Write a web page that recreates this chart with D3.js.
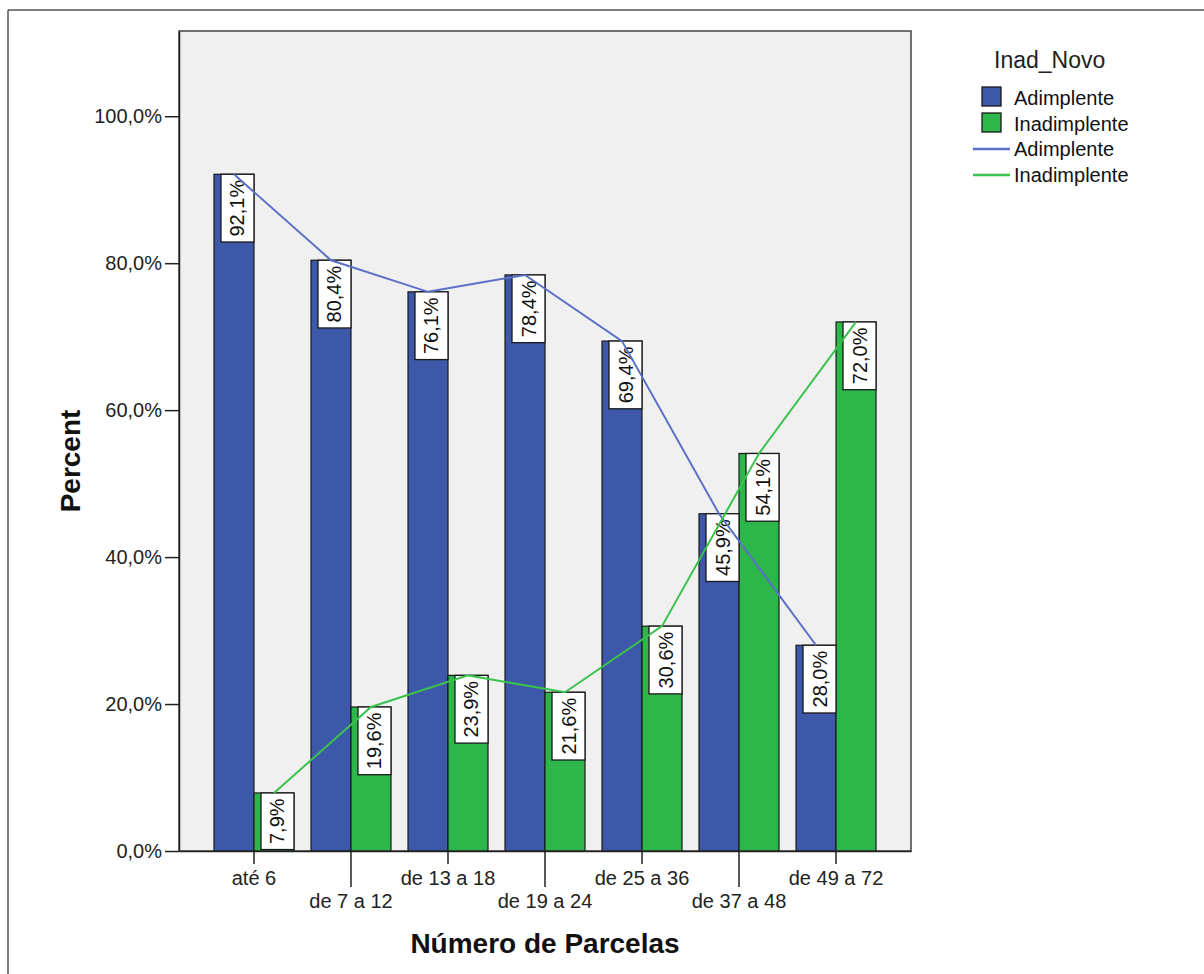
<!DOCTYPE html>
<html>
<head>
<meta charset="utf-8">
<script src="https://cdn.jsdelivr.net/npm/d3@7"></script>
<style>
  html, body { margin: 0; padding: 0; background: #fff; }
  svg { display: block; font-family: "Liberation Sans", Arial, sans-serif; }
</style>
</head>
<body>
<svg id="chart" width="1204" height="974"></svg>
<script>
// ---- data ----
const categories = ["até 6", "de 7 a 12", "de 13 a 18", "de 19 a 24", "de 25 a 36", "de 37 a 48", "de 49 a 72"];
const seriesNames = ["Adimplente", "Inadimplente"];
const adimplente = [92.1, 80.4, 76.1, 78.4, 69.4, 45.9, 28.0];
const inadimplente = [7.9, 19.6, 23.9, 21.6, 30.6, 54.1, 72.0];
const yTicks = [0, 20, 40, 60, 80, 100];
const legendTitle = "Inad_Novo";
const xTitle = "Número de Parcelas";
const yTitle = "Percent";

// ---- styles ----
const barColors = ["#3d57a9", "#2db64a"];
const lineColors = ["#5b70c8", "#39c24c"];

const locale = d3.formatLocale({decimal: ",", thousands: ".", grouping: [3], currency: ["R$", ""]});
const fmt = v => locale.format(".1f")(v) + "%";

const svg = d3.select("#chart");

// outer frame (document figure border)
svg.append("line").attr("x1", 8).attr("x2", 1204).attr("y1", 10).attr("y2", 10)
  .attr("stroke", "#555").attr("stroke-width", 1.5);
svg.append("line").attr("x1", 8).attr("x2", 8).attr("y1", 10).attr("y2", 974)
  .attr("stroke", "#555").attr("stroke-width", 1.5);

const plot = {left: 179, right: 911, top: 31, bottom: 851};

const x = d3.scaleBand().domain(categories).range([plot.left, plot.right])
  .paddingInner(0).paddingOuter(0.273);
const y = d3.scaleLinear().domain([0, 111.6]).range([plot.bottom, plot.top]);
const xs = d3.scaleBand().domain(seriesNames).range([-40, 40]);

// plot background
svg.append("rect").attr("x", plot.left).attr("y", plot.top)
  .attr("width", plot.right - plot.left).attr("height", plot.bottom - plot.top)
  .attr("fill", "#f0f0f0").attr("stroke", "#444").attr("stroke-width", 1.5);

const series = [adimplente, inadimplente];
const centerOf = c => x(c) + x.bandwidth() / 2;

// bars
series.forEach((vals, si) => {
  svg.append("g").selectAll("rect").data(categories).join("rect")
    .attr("x", c => centerOf(c) + xs(seriesNames[si]))
    .attr("y", (c, i) => y(vals[i]))
    .attr("width", xs.bandwidth())
    .attr("height", (c, i) => y(0) - y(vals[i]))
    .attr("fill", barColors[si])
    .attr("stroke", "#1a1a1a").attr("stroke-width", 1.2);
});

// labels (white boxes with rotated text)
series.forEach((vals, si) => {
  const g = svg.append("g");
  categories.forEach((c, i) => {
    const label = fmt(vals[i]);
    const right = centerOf(c) + xs(seriesNames[si]) + xs.bandwidth();
    const top = y(vals[i]);
    const lg = g.append("g");
    const t = lg.append("text")
      .attr("font-size", 20).attr("fill", "#111")
      .attr("text-anchor", "middle")
      .text(label);
    const len = t.node().getComputedTextLength();
    const boxH = len + 11, boxW = 33;
    lg.insert("rect", "text")
      .attr("x", right - boxW).attr("y", top)
      .attr("width", boxW).attr("height", boxH)
      .attr("fill", "#fff").attr("stroke", "#1a1a1a").attr("stroke-width", 1.3);
    const cx = right - boxW / 2, cy = top + boxH / 2;
    t.attr("transform", `translate(${cx + 7},${cy}) rotate(-90)`);
  });
});

// lines
series.forEach((vals, si) => {
  const line = d3.line()
    .x((c) => centerOf(c) + xs(seriesNames[si]) + xs.bandwidth() / 2)
    .y((c, i) => y(vals[i]));
  svg.append("path").datum(categories)
    .attr("d", line).attr("fill", "none")
    .attr("stroke", lineColors[si]).attr("stroke-width", 2);
});

// y axis
const yAxis = d3.axisLeft(y).tickValues(yTicks).tickSizeInner(14).tickSizeOuter(0).tickPadding(3)
  .tickFormat(d => locale.format(".1f")(d) + "%");
const ya = svg.append("g").attr("transform", `translate(${plot.left},0)`).call(yAxis);
ya.select(".domain").attr("stroke", "#222").attr("stroke-width", 1.5);
ya.selectAll(".tick line").attr("stroke", "#222").attr("stroke-width", 1.5);
ya.selectAll(".tick text").attr("font-size", 20).attr("fill", "#222")
  .attr("font-family", "Liberation Sans, Arial, sans-serif");

// x axis with staggered ticks
const xa = svg.append("g").attr("transform", `translate(0,${plot.bottom})`)
  .call(d3.axisBottom(x).tickSize(0).tickFormat(""));
xa.select(".domain").attr("stroke", "#222").attr("stroke-width", 1.5);
xa.selectAll(".tick").each(function(c, i) {
  const g = d3.select(this);
  const len = i % 2 === 0 ? 13 : 36;
  g.append("line").attr("y1", 0).attr("y2", len).attr("stroke", "#222").attr("stroke-width", 1.5);
  g.append("text").attr("y", i % 2 === 0 ? 34 : 57)
    .attr("text-anchor", "middle").attr("fill", "#222")
    .attr("font-size", 20).attr("font-family", "Liberation Sans, Arial, sans-serif")
    .text(c);
});

// axis titles
svg.append("text").attr("x", (plot.left + plot.right) / 2).attr("y", 953)
  .attr("text-anchor", "middle").attr("font-size", 28).attr("font-weight", "bold")
  .attr("fill", "#111").text(xTitle);
svg.append("text").attr("transform", `translate(80,${(plot.top + plot.bottom) / 2 + 20}) rotate(-90)`)
  .attr("text-anchor", "middle").attr("font-size", 28).attr("font-weight", "bold")
  .attr("fill", "#111").text(yTitle);

// legend
const lg = svg.append("g");
lg.append("text").attr("x", 994).attr("y", 68).attr("font-size", 23).attr("fill", "#222").text(legendTitle);
seriesNames.forEach((n, i) => {
  const yy = 87 + i * 26;
  lg.append("rect").attr("x", 982).attr("y", yy).attr("width", 19).attr("height", 19)
    .attr("fill", barColors[i]).attr("stroke", "#1a1a1a").attr("stroke-width", 1.3);
  lg.append("text").attr("x", 1014).attr("y", yy + 18).attr("font-size", 20).attr("fill", "#111").text(n);
});
seriesNames.forEach((n, i) => {
  const yy = 149 + i * 26;
  lg.append("line").attr("x1", 973).attr("x2", 1010).attr("y1", yy).attr("y2", yy)
    .attr("stroke", lineColors[i]).attr("stroke-width", 2.5);
  lg.append("text").attr("x", 1014).attr("y", yy + 7).attr("font-size", 20).attr("fill", "#111").text(n);
});
</script>
</body>
</html>
